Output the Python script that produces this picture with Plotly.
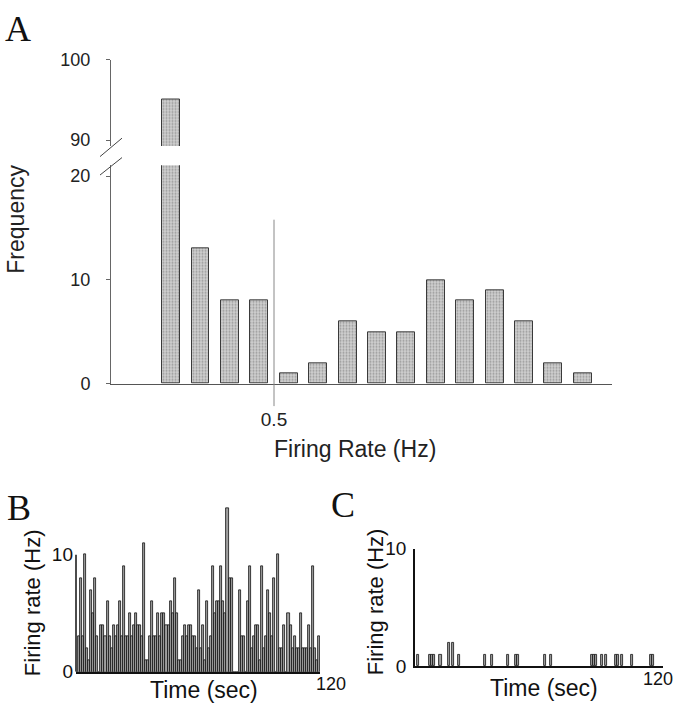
import plotly.graph_objects as go

W, H = 681, 720

# ---------------- data ----------------
# Panel A: histogram of firing rates (bin centres in Hz, bin width 0.125 Hz)
rate_bins = [0.0625, 0.1875, 0.3125, 0.4375, 0.5625, 0.6875, 0.8125, 0.9375,
             1.0625, 1.1875, 1.3125, 1.4375, 1.5625, 1.6875, 1.8125]
rate_freq = [95, 13, 8, 8, 1, 2, 6, 5, 5, 10, 8, 9, 6, 2, 1]
a_lower_ticks = [0, 10, 20]
a_upper_ticks = [90, 100]
a_x_ticks = [0.5]
a_x_ticktext = ["0.5"]

# Panel B: firing rate per 1-s bin (0..119 s)
b_rate = [0, 3, 8, 3, 10, 2, 1, 7, 5, 8,
          3, 0, 4, 4, 3, 6, 3, 2, 4, 3,
          4, 6, 3, 9, 3, 3, 5, 3, 4, 5,
          4, 4, 3, 11, 1, 1, 3, 6, 3, 3,
          5, 3, 5, 5, 4, 4, 6, 5, 8, 5,
          1, 1, 3, 4, 3, 4, 4, 3, 3, 2,
          7, 2, 4, 1, 6, 2, 3, 9, 5, 6,
          6, 9, 6, 5, 14, 8, 8, 0, 0, 0,
          7, 3, 3, 0, 6, 9, 2, 3, 4, 4,
          1, 9, 2, 3, 7, 5, 3, 8, 0, 10,
          2, 2, 4, 0, 5, 4, 2, 3, 2, 2,
          5, 2, 2, 2, 4, 2, 9, 2, 1, 3]
b_time = [t + 0.5 for t in range(len(b_rate))]

# Panel C: firing rate per 1-s bin, only non-zero seconds listed
c_time_sec = [1, 7, 8, 9, 12, 16, 18, 21, 34, 37, 45, 49, 50, 63, 66,
              86, 87, 88, 91, 93, 98, 99, 101, 106, 115, 116]
c_rate = [1, 1, 1, 1, 1, 2, 2, 1, 1, 1, 1, 1, 1, 1, 1,
          1, 1, 1, 1, 1, 1, 1, 1, 1, 1, 1]
c_time = [t + 0.5 for t in c_time_sec]
bc_ticks = [0, 10]

# ---------------- helpers ----------------
def px(x):
    return x / W

def py(y):
    return 1 - y / H

SANS = "Liberation Sans, Arial, sans-serif"
SERIF = "Liberation Serif, Times New Roman, serif"

fig = go.Figure()

a_marker = dict(color="#c4c4c4",
                pattern=dict(shape=".", fgcolor="#5f5f5f", bgcolor="#d2d2d2",
                             size=3, solidity=0.4),
                line=dict(color="#3a3a3a", width=1))

fig.add_trace(go.Bar(x=rate_bins, y=rate_freq, width=0.0765, marker=a_marker,
                     xaxis="x", yaxis="y", showlegend=False))
fig.add_trace(go.Bar(x=rate_bins, y=rate_freq, width=0.0765, marker=a_marker,
                     xaxis="x", yaxis="y2", showlegend=False))

bc_marker = dict(color="#a0a0a0", line=dict(color="#111111", width=0.8))
fig.add_trace(go.Bar(x=b_time, y=b_rate, width=1, marker=bc_marker,
                     xaxis="x3", yaxis="y3", showlegend=False))
fig.add_trace(go.Bar(x=c_time, y=c_rate, width=1, marker=bc_marker,
                     xaxis="x4", yaxis="y4", showlegend=False))

tickfont_a = dict(family=SANS, size=18, color="#222")
tickfont_bc = dict(family=SANS, size=19, color="#111")

fig.update_layout(
    width=W, height=H,
    margin=dict(l=0, r=0, t=0, b=0),
    paper_bgcolor="white", plot_bgcolor="white",
    bargap=0,
    xaxis=dict(domain=[px(111), px(612)], range=[-0.193, 1.937], anchor="y",
               showline=True, linecolor="#555", linewidth=1, showgrid=False,
               zeroline=False, tickvals=a_x_ticks, ticktext=a_x_ticktext,
               ticks="", ticklabelstandoff=18, tickfont=dict(family=SANS, size=19, color="#222")),
    yaxis=dict(domain=[py(385), py(160)], range=[0, 21.03], anchor="x",
               showline=True, linecolor="#666", linewidth=1, showgrid=False,
               zeroline=False, tickvals=a_lower_ticks, ticks="outside", ticklen=4,
               tickcolor="#666", ticklabelstandoff=12, tickfont=tickfont_a),
    yaxis2=dict(domain=[py(140), py(51)], range=[89.28, 100], anchor="x",
                showline=True, linecolor="#666", linewidth=1, showgrid=False,
                zeroline=False, tickvals=a_upper_ticks, ticks="outside", ticklen=4,
                tickcolor="#666", ticklabelstandoff=12, tickfont=tickfont_a),
    xaxis3=dict(domain=[px(76), px(320)], range=[0, 120], anchor="y3",
                showline=True, linecolor="#111", linewidth=1.5, showgrid=False,
                zeroline=False, showticklabels=False, ticks=""),
    yaxis3=dict(domain=[py(681.7), py(505)], range=[0, 14.64], anchor="x3",
                showline=False, showgrid=False, zeroline=False,
                tickvals=bc_ticks, ticks="", ticklabelstandoff=2, tickfont=tickfont_bc),
    xaxis4=dict(domain=[px(415), px(663)], range=[0, 121.5], anchor="y4",
                showline=True, linecolor="#111", linewidth=1.5, showgrid=False,
                zeroline=False, showticklabels=False, ticks=""),
    yaxis4=dict(domain=[py(676), py(555)], range=[0, 10], anchor="x4",
                showline=True, linecolor="#111", linewidth=1.5, showgrid=False,
                zeroline=False, tickvals=bc_ticks, ticks="", ticklabelstandoff=3,
                tickfont=tickfont_bc),
)

shapes = [
    # 0.5 Hz reference line in A
    dict(type="line", xref="x", yref="paper", x0=0.5, x1=0.5,
         y0=py(408), y1=py(216), line=dict(color="#888", width=1)),
    # axis-break slashes in A
    dict(type="line", xref="paper", yref="paper", x0=px(100), y0=py(151),
         x1=px(122), y1=py(132), line=dict(color="#444", width=1)),
    dict(type="line", xref="paper", yref="paper", x0=px(100), y0=py(170),
         x1=px(122), y1=py(152), line=dict(color="#444", width=1)),
    # B y-axis line from 0 to 10
    dict(type="line", xref="paper", yref="y3", x0=px(76), x1=px(76),
         y0=0, y1=10, line=dict(color="#111", width=1.5)),
]
fig.update_layout(shapes=shapes)

ann = []
def add(text, x, y, size, family=SANS, angle=0, color="#111"):
    ann.append(dict(text=text, x=px(x), y=py(y), xref="paper", yref="paper",
                    showarrow=False, textangle=angle, xanchor="center",
                    yanchor="middle", font=dict(family=family, size=size, color=color)))

add("A", 18, 20, 36, SERIF)
add("B", 19, 513, 36, SERIF)
add("C", 343, 510, 36, SERIF)
add("Frequency", 16, 216, 23, angle=-90, color="#222")
add("Firing Rate (Hz)", 355, 452, 23, color="#222")
add("Firing rate (Hz)", 32, 611, 22, angle=-90)
add("Time (sec)", 204, 700, 23)
add("120", 331, 694, 18)
add("Firing rate (Hz)", 375, 609, 22, angle=-90)
add("Time (sec)", 544, 698, 23)
add("120", 658, 689, 18)
fig.update_layout(annotations=ann)

fig.write_html("out.html", config={"displayModeBar": False},
               post_script="document.body.style.margin='0';"
                           "document.body.style.overflow='hidden';")
